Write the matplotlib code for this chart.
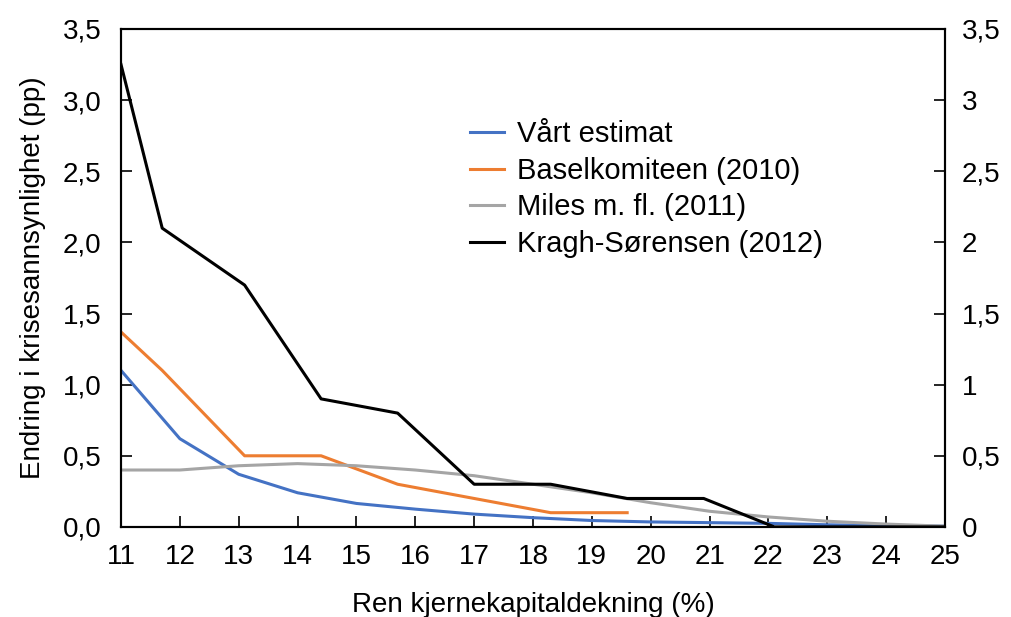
import matplotlib as mpl
mpl.use("Agg")
import matplotlib.pyplot as plt
from matplotlib.ticker import FuncFormatter, MultipleLocator

plt.rcParams["font.family"] = ["Liberation Sans", "DejaVu Sans"]

# data
x_steps = [11.0, 11.7, 13.1, 14.4, 15.7, 17.0, 18.3, 19.6, 20.9, 22.1, 25.0]
kragh = [3.25, 2.1, 1.7, 0.9, 0.8, 0.3, 0.3, 0.2, 0.2, 0.0, 0.0]

x_basel = [11.0, 11.7, 13.1, 14.4, 15.7, 17.0, 18.3, 19.6]
basel = [1.37, 1.1, 0.5, 0.5, 0.3, 0.2, 0.1, 0.1]

x_int = list(range(11, 26))
vaart = [1.1, 0.62, 0.37, 0.24, 0.165, 0.125, 0.09, 0.065, 0.045,
         0.035, 0.03, 0.025, 0.015, 0.01, 0.005]
miles = [0.4, 0.4, 0.43, 0.445, 0.43, 0.4, 0.36, 0.3, 0.24, 0.17,
         0.11, 0.07, 0.04, 0.02, 0.005]

fig = plt.figure(figsize=(10.11, 6.17), dpi=100)
ax = fig.add_axes([0.1197, 0.146, 0.815, 0.807])

ax.plot(x_int, vaart, color="#4472C4", lw=2.2, label="Vårt estimat")
ax.plot(x_basel, basel, color="#ED7D31", lw=2.2, label="Baselkomiteen (2010)")
ax.plot(x_int, miles, color="#A5A5A5", lw=2.2, label="Miles m. fl. (2011)")
ax.plot(x_steps, kragh, color="black", lw=2.2, label="Kragh-Sørensen (2012)")

ax.set_xlim(11, 25)
ax.set_ylim(0, 3.5)
ax.xaxis.set_major_locator(MultipleLocator(1))
ax.yaxis.set_major_locator(MultipleLocator(0.5))
ax.yaxis.set_major_formatter(FuncFormatter(lambda v, p: f"{v:.1f}".replace(".", ",")))

ax2 = ax.twinx()
ax2.set_ylim(0, 3.5)
ax2.yaxis.set_major_locator(MultipleLocator(0.5))
ax2.yaxis.set_major_formatter(FuncFormatter(lambda v, p: f"{v:g}".replace(".", ",")))

for a in (ax, ax2):
    for s in a.spines.values():
        s.set_color("black")
        s.set_linewidth(1.5)
    a.tick_params(direction="in", length=8, width=1.2, labelsize=20)
ax.tick_params(axis="y", pad=14)
ax2.tick_params(axis="y", pad=12)
ax.tick_params(axis="x", pad=12)

ax.set_xlabel("Ren kjernekapitaldekning (%)", fontsize=20, labelpad=16)
ax.set_ylabel("Endring i krisesannsynlighet (pp)", fontsize=20, labelpad=12)

ax.legend(loc="upper left", bbox_to_anchor=(0.392, 0.87), frameon=False,
          fontsize=21, handlelength=1.15, handletextpad=0.45, labelspacing=0.3)

fig.savefig("out.png", dpi=100)
